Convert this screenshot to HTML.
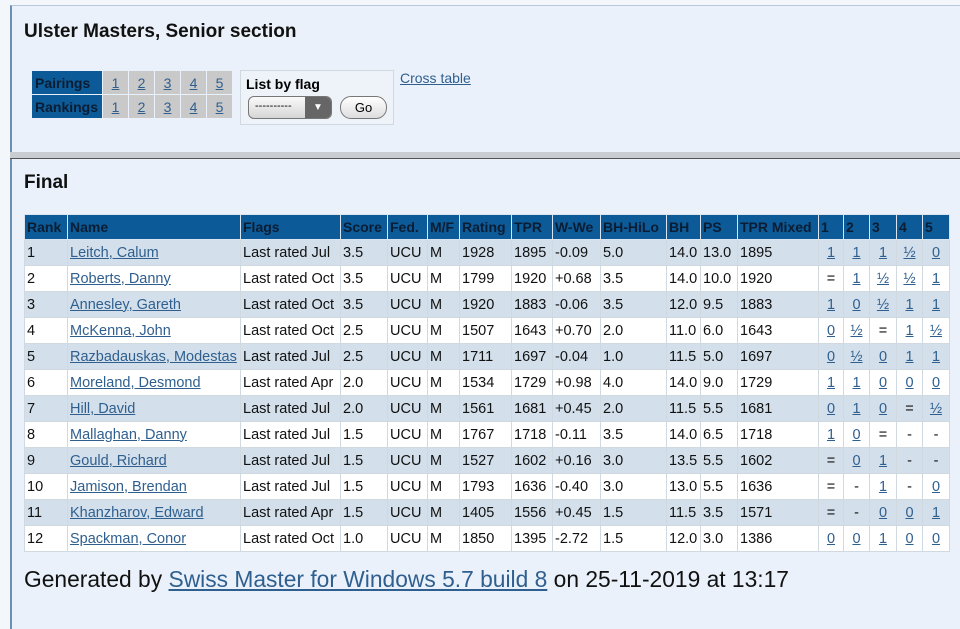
<!DOCTYPE html>
<html><head><meta charset="utf-8"><style>
body{margin:0;width:960px;height:618px;overflow:hidden;background:#f3f6fa;font-family:"Liberation Sans",sans-serif;position:relative}
.box{position:absolute;left:10px;width:960px;background:#eaf1fa;border-left:2px solid #6c8fb4}
#b1{top:5px;height:147px;border-top:1px solid #b8c8da}
#sep{position:absolute;left:10px;top:152px;width:960px;height:6px;background:#c9ccd0;border-bottom:1px solid #555}
#b2{top:159px;height:470px}
h1{position:absolute;left:24px;top:21px;margin:0;font-size:19px;font-weight:bold;color:#111}
h2{position:absolute;left:24px;top:172px;margin:0;font-size:19px;font-weight:bold;color:#111}
a{color:#2f5f8f;text-decoration:underline}
table{border-collapse:collapse;table-layout:fixed;position:absolute}
#nav{left:31px;top:70px}
#nav td{height:23px;border:1px solid #eaf1fa;font-size:14px;text-align:center;background:#c9c9c9;padding:0;width:25px}
#nav td.l{background:#0d5a98;color:#0a1d33;font-weight:bold;width:67px;text-align:left;padding-left:3px}
#flag{position:absolute;left:240px;top:70px;width:152px;height:53px;border:1px solid #d0d8e0;background:#eef3f9}
#flag b{position:absolute;left:5px;top:5px;font-size:14px}
#sel{position:absolute;left:7px;top:25px;width:82px;height:21px;border:1px solid #777;border-radius:6px;background:linear-gradient(#fafafa,#d6d6d6);overflow:hidden;font-size:11px}
#sel span{position:absolute;left:6px;top:3px}
#sel i{position:absolute;right:0;top:0;width:26px;height:21px;background:#666;color:#fff;font-style:normal;text-align:center;font-size:10px;line-height:21px}
#go{position:absolute;left:99px;top:25px;width:45px;height:21px;border:1px solid #777;border-radius:11px;background:linear-gradient(#fff,#ddd);font-size:13px;text-align:center;line-height:21px}
#ct{position:absolute;left:400px;top:70px;font-size:14px}
#t{left:24px;top:214px;width:925px;font-size:14.5px;color:#111}
#t th{background:#0d5a98;color:#0a1d33;text-align:left;height:24px;padding:0 2px;border:1px solid #dbe4ee;font-size:14px;white-space:nowrap;overflow:hidden}
#t td{height:25px;padding:0 2px;border:1px solid #d0d8e0;white-space:nowrap;overflow:hidden}
#t tr:nth-child(even) td{background:#d3dfea}
#t tr:nth-child(odd) td{background:#fff}
#t td.c{text-align:center;padding:0}
#gen{position:absolute;left:24px;top:566px;font-size:22.8px;color:#111}
</style></head><body>
<div class="box" id="b1"></div>
<div id="sep"></div>
<div class="box" id="b2"></div>
<h1>Ulster Masters, Senior section</h1>
<table id="nav">
<tr><td class="l">Pairings</td><td><a>1</a></td><td><a>2</a></td><td><a>3</a></td><td><a>4</a></td><td><a>5</a></td></tr>
<tr><td class="l">Rankings</td><td><a>1</a></td><td><a>2</a></td><td><a>3</a></td><td><a>4</a></td><td><a>5</a></td></tr>
</table>
<div id="flag"><b>List by flag</b><div id="sel"><span>----------</span><i>▼</i></div><div id="go">Go</div></div>
<a id="ct">Cross table</a>
<h2>Final</h2>
<table id="t">
<colgroup><col style="width:43px"><col style="width:173px"><col style="width:100px"><col style="width:47px"><col style="width:40px"><col style="width:32px"><col style="width:52px"><col style="width:41px"><col style="width:48px"><col style="width:66px"><col style="width:34px"><col style="width:37px"><col style="width:81px"><col style="width:25px"><col style="width:26px"><col style="width:27px"><col style="width:26px"><col style="width:27px"></colgroup>
<tr><th>Rank</th><th>Name</th><th>Flags</th><th>Score</th><th>Fed.</th><th>M/F</th><th>Rating</th><th>TPR</th><th>W-We</th><th>BH-HiLo</th><th>BH</th><th>PS</th><th>TPR Mixed</th><th>1</th><th>2</th><th>3</th><th>4</th><th>5</th></tr>
<tr><td>1</td><td><a>Leitch, Calum</a></td><td>Last rated Jul</td><td>3.5</td><td>UCU</td><td>M</td><td>1928</td><td>1895</td><td>-0.09</td><td>5.0</td><td>14.0</td><td>13.0</td><td>1895</td><td class="c"><a>1</a></td><td class="c"><a>1</a></td><td class="c"><a>1</a></td><td class="c"><a>½</a></td><td class="c"><a>0</a></td></tr>
<tr><td>2</td><td><a>Roberts, Danny</a></td><td>Last rated Oct</td><td>3.5</td><td>UCU</td><td>M</td><td>1799</td><td>1920</td><td>+0.68</td><td>3.5</td><td>14.0</td><td>10.0</td><td>1920</td><td class="c">=</td><td class="c"><a>1</a></td><td class="c"><a>½</a></td><td class="c"><a>½</a></td><td class="c"><a>1</a></td></tr>
<tr><td>3</td><td><a>Annesley, Gareth</a></td><td>Last rated Oct</td><td>3.5</td><td>UCU</td><td>M</td><td>1920</td><td>1883</td><td>-0.06</td><td>3.5</td><td>12.0</td><td>9.5</td><td>1883</td><td class="c"><a>1</a></td><td class="c"><a>0</a></td><td class="c"><a>½</a></td><td class="c"><a>1</a></td><td class="c"><a>1</a></td></tr>
<tr><td>4</td><td><a>McKenna, John</a></td><td>Last rated Oct</td><td>2.5</td><td>UCU</td><td>M</td><td>1507</td><td>1643</td><td>+0.70</td><td>2.0</td><td>11.0</td><td>6.0</td><td>1643</td><td class="c"><a>0</a></td><td class="c"><a>½</a></td><td class="c">=</td><td class="c"><a>1</a></td><td class="c"><a>½</a></td></tr>
<tr><td>5</td><td><a>Razbadauskas, Modestas</a></td><td>Last rated Jul</td><td>2.5</td><td>UCU</td><td>M</td><td>1711</td><td>1697</td><td>-0.04</td><td>1.0</td><td>11.5</td><td>5.0</td><td>1697</td><td class="c"><a>0</a></td><td class="c"><a>½</a></td><td class="c"><a>0</a></td><td class="c"><a>1</a></td><td class="c"><a>1</a></td></tr>
<tr><td>6</td><td><a>Moreland, Desmond</a></td><td>Last rated Apr</td><td>2.0</td><td>UCU</td><td>M</td><td>1534</td><td>1729</td><td>+0.98</td><td>4.0</td><td>14.0</td><td>9.0</td><td>1729</td><td class="c"><a>1</a></td><td class="c"><a>1</a></td><td class="c"><a>0</a></td><td class="c"><a>0</a></td><td class="c"><a>0</a></td></tr>
<tr><td>7</td><td><a>Hill, David</a></td><td>Last rated Jul</td><td>2.0</td><td>UCU</td><td>M</td><td>1561</td><td>1681</td><td>+0.45</td><td>2.0</td><td>11.5</td><td>5.5</td><td>1681</td><td class="c"><a>0</a></td><td class="c"><a>1</a></td><td class="c"><a>0</a></td><td class="c">=</td><td class="c"><a>½</a></td></tr>
<tr><td>8</td><td><a>Mallaghan, Danny</a></td><td>Last rated Jul</td><td>1.5</td><td>UCU</td><td>M</td><td>1767</td><td>1718</td><td>-0.11</td><td>3.5</td><td>14.0</td><td>6.5</td><td>1718</td><td class="c"><a>1</a></td><td class="c"><a>0</a></td><td class="c">=</td><td class="c">-</td><td class="c">-</td></tr>
<tr><td>9</td><td><a>Gould, Richard</a></td><td>Last rated Jul</td><td>1.5</td><td>UCU</td><td>M</td><td>1527</td><td>1602</td><td>+0.16</td><td>3.0</td><td>13.5</td><td>5.5</td><td>1602</td><td class="c">=</td><td class="c"><a>0</a></td><td class="c"><a>1</a></td><td class="c">-</td><td class="c">-</td></tr>
<tr><td>10</td><td><a>Jamison, Brendan</a></td><td>Last rated Jul</td><td>1.5</td><td>UCU</td><td>M</td><td>1793</td><td>1636</td><td>-0.40</td><td>3.0</td><td>13.0</td><td>5.5</td><td>1636</td><td class="c">=</td><td class="c">-</td><td class="c"><a>1</a></td><td class="c">-</td><td class="c"><a>0</a></td></tr>
<tr><td>11</td><td><a>Khanzharov, Edward</a></td><td>Last rated Apr</td><td>1.5</td><td>UCU</td><td>M</td><td>1405</td><td>1556</td><td>+0.45</td><td>1.5</td><td>11.5</td><td>3.5</td><td>1571</td><td class="c">=</td><td class="c">-</td><td class="c"><a>0</a></td><td class="c"><a>0</a></td><td class="c"><a>1</a></td></tr>
<tr><td>12</td><td><a>Spackman, Conor</a></td><td>Last rated Oct</td><td>1.0</td><td>UCU</td><td>M</td><td>1850</td><td>1395</td><td>-2.72</td><td>1.5</td><td>12.0</td><td>3.0</td><td>1386</td><td class="c"><a>0</a></td><td class="c"><a>0</a></td><td class="c"><a>1</a></td><td class="c"><a>0</a></td><td class="c"><a>0</a></td></tr>
</table>
<div id="gen">Generated by <a>Swiss Master for Windows 5.7 build 8</a> on 25-11-2019 at 13:17</div>
</body></html>
